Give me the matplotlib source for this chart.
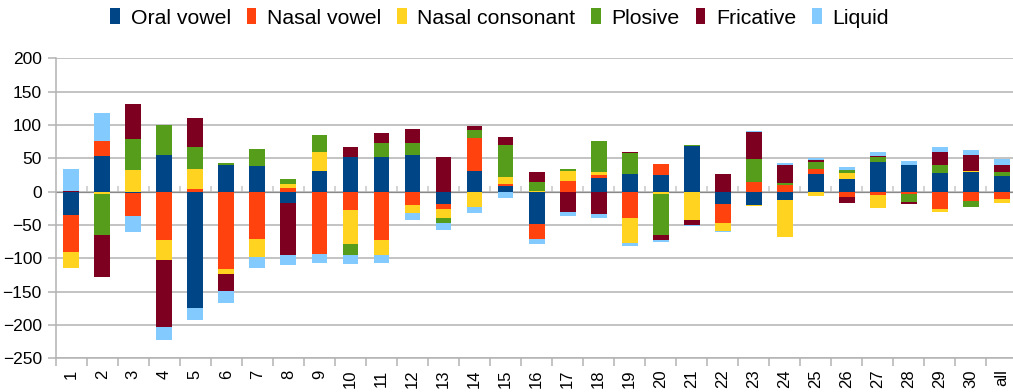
import numpy as np
import matplotlib.pyplot as plt

plt.rcParams['font.family'] = ['Liberation Sans', 'DejaVu Sans']

categories = [str(i) for i in range(1, 31)] + ['all']
series_names = ['Oral vowel', 'Nasal vowel', 'Nasal consonant', 'Plosive', 'Fricative', 'Liquid']
colors = ['#004586', '#ff420e', '#ffd320', '#579d1c', '#7e0021', '#83caff']

oral_vowel = [-35, 53.5, -2.5, 55, -174.5, 40, 38.5, -17, 31, 52, 52, 55, -18.5, 31, 8.5, -48.5,
              -1, 20.5, 26.5, 25, 68.5, -18.5, -19.5, -12.5, 26.5, 19, 44.5, 40, 28, 29.5, 23.5]
nasal_vowel = [-55.5, 22.5, -34, -72.5, 4, -116, -71, 5.5, -93.5, -27.5, -72.5, -20, -7.5, 50, 3, -22.5,
               16, 4.5, -39.5, 16.5, 0, -28.5, 14.5, 10, 7.5, -8, -5, -3, -26, -14, -11]
nasal_consonant = [-24, -3, 32.5, -30, 30, -7.5, -27.5, 6, 28.5, -51, -22.5, -12, -13.5, -23, 10.5, 1,
                   15, 4.5, -37.5, -3, -42.5, -12, -1.5, -55.5, -6.5, 9, -19.5, 0, -4.5, 1.5, -6]
plosive = [0, -62, 46.5, 45, 33, 3, 25.5, 7.5, 25.5, -16.5, 21, 18, -7.5, 11.5, 48, 13.5,
           3, 46.5, 31.5, -62, 1.5, 0, 34.5, 3, 10.5, 4.5, 7.5, -12.5, 12, -9, 6]
fricative = [1, -63, 52.5, -100.5, 43.5, -25.5, 0, -78, 0, 15, 15, 21, 52, 6, 12, 15,
             -30, -33.5, 1.5, -7.5, -7.5, 26.5, 40.5, 27, 3, -9, 1.5, -3, 19.5, 24, 10.5]
liquid = [33, 42, -24, -19.5, -18, -18, -16, -15, -13.5, -13.5, -12, -10.5, -10.5, -9, -9.5, -7.5,
          -6, -6, -4.5, -3, -1, -1.5, 1.5, 3, 3, 4.5, 6, 6, 7.5, 7.5, 9]

data = [oral_vowel, nasal_vowel, nasal_consonant, plosive, fricative, liquid]

W, H = 1013, 392
fig = plt.figure(figsize=(W / 100, H / 100), dpi=100)
ax = fig.add_axes([55.7 / W, (H - 358.3) / H, (1017.5 - 55.7) / W, 300 / H])

x = np.arange(len(categories))
pos_bottom = np.zeros(len(categories))
neg_bottom = np.zeros(len(categories))
for name, vals, c in zip(series_names, data, colors):
    v = np.array(vals, dtype=float)
    bottom = np.where(v >= 0, pos_bottom, neg_bottom)
    ax.bar(x, v, bottom=bottom, width=0.51, color=c, label=name, zorder=3)
    pos_bottom += np.clip(v, 0, None)
    neg_bottom += np.clip(v, None, 0)

grid_c = '#b3b3b3'
ax.set_xlim(-0.5, len(categories) - 0.5)
ax.set_ylim(-250, 200)
ax.set_yticks(np.arange(-250, 201, 50))
ax.yaxis.grid(True, color=grid_c, linewidth=1.1, zorder=0)
for s in ['top', 'right']:
    ax.spines[s].set_visible(False)
for s in ['left', 'bottom']:
    ax.spines[s].set_color(grid_c)
    ax.spines[s].set_linewidth(1.1)

ax.set_xticks(x)
ax.set_xticklabels(categories, rotation=90, fontsize=12)
ax.set_xticks(np.arange(-0.5, len(categories)), minor=True)
ax.tick_params(axis='x', which='major', length=0, pad=8)
ax.tick_params(axis='x', which='minor', length=5.5, color=grid_c, width=1.1)
ax.tick_params(axis='y', length=6, color=grid_c, width=1.1, labelsize=12.5, pad=4)

# small category ticks along the zero line
zero = ax.secondary_xaxis(250 / 450)
zero.set_xticks(np.arange(0.5, len(categories) - 1))
zero.set_xticklabels([])
zero.tick_params(axis='x', length=4.5, color='#c8c8c8', width=1.1, direction='out')
zero.spines['bottom'].set_visible(False)

fig.legend(loc='center', bbox_to_anchor=(499.5 / W, 1 - 18 / H), ncol=6, frameon=False,
           fontsize=15.3, handlelength=0.45, handleheight=0.75, handletextpad=0.5,
           columnspacing=0.75, borderaxespad=0)

fig.savefig('out.png', dpi=100)
